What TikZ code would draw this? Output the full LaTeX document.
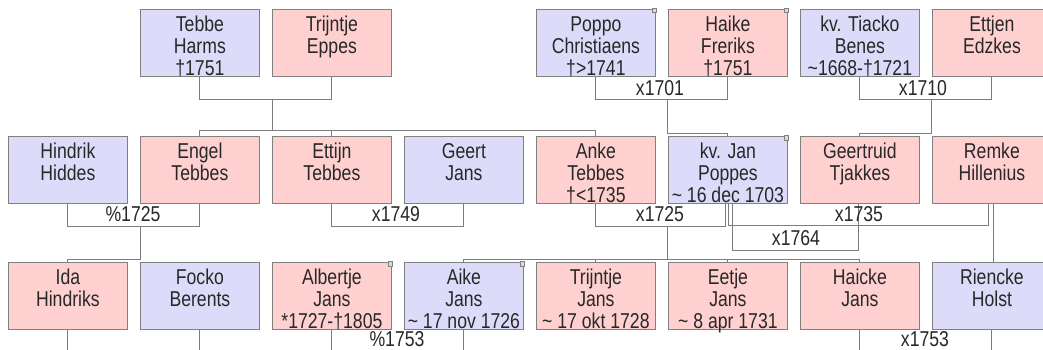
\documentclass[tikz,border=0pt]{standalone}
\usepackage{fontspec}
\newfontfamily\pfontfam[FakeStretch=0.82]{Liberation Sans}
\newcommand\pf{\pfontfam\fontsize{21.5pt}{22pt}\selectfont}
\definecolor{mblue}{RGB}{220,220,250}
\definecolor{fpink}{RGB}{255,208,208}
\definecolor{boxgray}{RGB}{128,128,128}
\definecolor{linegray}{RGB}{125,125,125}
\definecolor{txt}{RGB}{40,40,40}
\newcommand\pbox[1]{\parbox[c][67pt][t]{119pt}{\centering\rule{0pt}{22pt}#1}}
\tikzset{
  person/.style={draw=boxgray, line width=0.8pt, inner sep=0pt, anchor=north west, text=txt, font=\pf},
  male/.style={person, fill=mblue},
  female/.style={person, fill=fpink},
  conn/.style={draw=linegray, line width=0.9pt},
  lbl/.style={font=\pf, text=txt, inner sep=0pt},
  marker/.style={draw=boxgray, fill=black!15, line width=0.5pt, minimum size=4.5pt, inner sep=0pt},
}
\begin{document}
\begin{tikzpicture}[x=1pt,y=-1pt]
\useasboundingbox (0,0) rectangle (1043,350);
\fill[white] (0,0) rectangle (1043,350);
\clip (0,0) rectangle (1043,350);
% row 1
\node[male]   (tebbe)    at (140,9) {\pbox{Tebbe\\Harms\\†1751}};
\node[female] (trijntje) at (272,9) {\pbox{Trijntje\\Eppes}};
\node[male]   (poppo)    at (536,9) {\pbox{Poppo\\Christiaens\\†>1741}};
\node[female] (haike)    at (668,9) {\pbox{Haike\\Freriks\\†1751}};
\node[male]   (tiacko)   at (800,9) {\pbox{kv. Tiacko\\Benes\\\textasciitilde1668-†1721}};
\node[female] (ettjen)   at (932,9) {\pbox{Ettjen\\Edzkes}};
% row 2
\node[male]   (hindrik)  at (8,136)   {\pbox{Hindrik\\Hiddes}};
\node[female] (engel)    at (140,136) {\pbox{Engel\\Tebbes}};
\node[female] (ettijn)   at (272,136) {\pbox{Ettijn\\Tebbes}};
\node[male]   (geert)    at (404,136) {\pbox{Geert\\Jans}};
\node[female] (anke)     at (536,136) {\pbox{Anke\\Tebbes\\†<1735}};
\node[male]   (jan)      at (668,136) {\pbox{kv. Jan\\Poppes\\\textasciitilde\ 16 dec 1703}};
\node[female] (geertruid) at (800,136) {\pbox{Geertruid\\Tjakkes}};
\node[female] (remke)    at (932,136) {\pbox{Remke\\Hillenius}};
% row 3
\node[female] (ida)      at (8,262)   {\pbox{Ida\\Hindriks}};
\node[male]   (focko)    at (140,262) {\pbox{Focko\\Berents}};
\node[female] (albertje) at (272,262) {\pbox{Albertje\\Jans\\{*}1727-†1805}};
\node[male]   (aike)     at (404,262) {\pbox{Aike\\Jans\\\textasciitilde\ 17 nov 1726}};
\node[female] (trijntjej) at (536,262) {\pbox{Trijntje\\Jans\\\textasciitilde\ 17 okt 1728}};
\node[female] (eetje)    at (668,262) {\pbox{Eetje\\Jans\\\textasciitilde\ 8 apr 1731}};
\node[female] (haicke)   at (800,262) {\pbox{Haicke\\Jans}};
\node[male]   (riencke)  at (932,262) {\pbox{Riencke\\Holst}};
% markers
\node[marker] (poppom) at ([xshift=-1.5pt,yshift=-1.5pt]poppo.north east) {};
\node[marker] (haikem) at ([xshift=-1.5pt,yshift=-1.5pt]haike.north east) {};
\node[marker] (janm) at ([xshift=-1.5pt,yshift=-1.5pt]jan.north east) {};
\node[marker] (albertjem) at ([xshift=-1.5pt,yshift=-1.5pt]albertje.north east) {};
\node[marker] (aikem) at ([xshift=-1.5pt,yshift=-1.5pt]aike.north east) {};
% row 1 marriages
\draw[conn] (tebbe.south) -- ++(0,23) -| (trijntje.south);
\coordinate (m1) at (272,99);
\draw[conn] (m1) -- ++(0,31);
\draw[conn] (engel.north) -- ++(0,-6) -| (anke.north);
\draw[conn] (ettijn.north) -- ++(0,-6);
\draw[conn] (poppo.south) -- ++(0,23) -| (haike.south);
\coordinate (m2) at (667,99);
\coordinate (j2) at ([yshift=3pt]jan.north);
\draw[conn] (m2) |- (j2) -- (jan.north);
\draw[conn] (tiacko.south) -- ++(0,23) -| (ettjen.south);
\coordinate (m3) at (931,99);
\coordinate (g2) at ([yshift=3pt]geertruid.north);
\draw[conn] (m3) |- (g2) -- (geertruid.north);
% row 2 marriages
\draw[conn] (hindrik.south) -- ++(0,23) -| (engel.south);
\coordinate (m4) at (140,226);
\coordinate (i2) at ([yshift=3pt]ida.north);
\draw[conn] (m4) |- (i2) -- (ida.north);
\draw[conn] (ettijn.south) -- ++(0,23) -| (geert.south);
\draw[conn] (anke.south) -- ++(0,23) -| ([xshift=-2.5pt]jan.south);
\coordinate (m5) at (667,226);
\draw[conn] (m5) -- ++(0,33);
\draw[conn] (aike.north) -- ++(0,-3) -| (haicke.north);
\draw[conn] (trijntjej.north) -- ++(0,-3);
\draw[conn] (eetje.north) -- ++(0,-3);
\draw[conn] ([xshift=1pt]jan.south) -- ++(0,22) -| ([xshift=-3.5pt]remke.south);
\draw[conn] ([xshift=4.5pt]jan.south) -- ++(0,47) -| ([xshift=-1pt]geertruid.south);
\draw[conn] ([xshift=1.5pt]remke.south) -- ([xshift=1.5pt]riencke.north);
% row 3 marriages
\draw[conn] (ida.south) -- ++(0,23) -| (focko.south);
\draw[conn] (albertje.south) -- ++(0,23) -| (aike.south);
\draw[conn] (haicke.south) -- ++(0,23) -| (riencke.south);
% labels
\node[lbl] (l1701) at (660,88.5) {x1701};
\node[lbl] (l1710) at (923,88.5) {x1710};
\node[lbl] (l1725a) at (133,214) {\%1725};
\node[lbl] (l1749) at (396,214) {x1749};
\node[lbl] (l1725b) at (660,214) {x1725};
\node[lbl] (l1735) at (859,214) {x1735};
\node[lbl] (l1764) at (796,238.5) {x1764};
\node[lbl] (l1753a) at (397,339) {\%1753};
\node[lbl] (l1753b) at (925,339) {x1753};
\end{tikzpicture}
\end{document}
